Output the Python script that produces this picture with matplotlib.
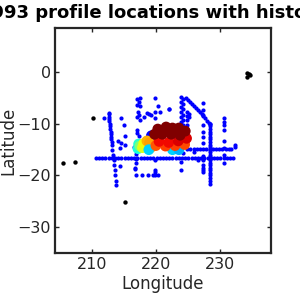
import matplotlib
matplotlib.use("Agg")
import matplotlib.pyplot as plt

# ---- Blue profile locations (lon, lat) ----
track_a_lon = [210.6, 211.1, 211.6, 212.1, 212.6, 213.1, 213.6, 214.1, 214.6, 215.1, 215.6, 216.1,
               216.6, 217.1, 217.6, 218.1, 218.6, 219.1, 219.6, 220.1, 220.6, 221.1, 221.6, 222.1,
               222.6, 223.1, 223.6, 224.1, 224.6, 225.1, 225.6, 226.1, 226.6, 227.1, 227.6, 228.1,
               228.6, 229.1, 229.6, 230.1, 230.6, 231.1, 231.6, 232.0]
track_a_lat = [-16.6] * len(track_a_lon)

track_b_lon = [224.9, 225.4, 225.9, 226.4, 226.9, 227.4, 227.9, 228.4, 228.9, 229.4, 229.9, 230.4,
               230.9, 231.4, 231.7]
track_b_lat = [-14.9] * len(track_b_lon)

track_c_lon = [212.6, 212.62, 212.66, 212.7, 212.74, 212.79, 212.83, 212.87, 212.92, 212.96, 213.0,
               213.05, 213.1, 213.13, 213.2, 213.3, 213.38, 213.47, 213.56, 213.65, 213.72, 213.8]
track_c_lat = [-7.8, -8.1, -8.6, -9.0, -9.5, -10.0, -10.5, -11.0, -11.5, -12.0, -12.5,
               -13.0, -13.5, -14.0, -15.0, -16.0, -17.0, -18.0, -19.0, -20.0, -21.0, -21.8]

track_d_lon = [224.75, 225.05, 225.35, 225.65, 225.95, 226.25, 226.55, 226.85, 227.15, 227.45,
               227.75, 228.05, 228.35, 228.5]
track_d_lat = [-4.9, -5.3, -5.7, -6.1, -6.5, -6.9, -7.3, -7.7, -8.1, -8.5,
               -8.9, -9.4, -9.8, -10.0]

track_e_lon = [228.5] * 24
track_e_lat = [-10.0, -10.5, -11.0, -11.5, -12.0, -12.5, -13.0, -13.5, -14.0, -14.5, -15.0, -15.5,
               -16.0, -16.5, -17.0, -17.5, -18.0, -18.5, -19.0, -19.5, -20.0, -20.5, -21.0, -21.7]

col_224_lon = [223.9, 224.2, 223.9, 224.2, 223.9, 224.2, 223.9, 224.2, 223.9, 224.2, 223.9, 224.2,
               223.9, 224.2, 223.9, 224.2, 223.9, 224.2, 223.9, 224.2, 223.9, 223.9, 224.8, 224.8,
               224.8, 224.8, 225.2, 225.2]
col_224_lat = [-4.8, -5.2, -5.7, -6.2, -6.7, -7.2, -7.7, -8.2, -8.7, -9.2, -9.7, -10.2,
               -10.7, -11.2, -11.7, -12.2, -12.7, -13.2, -13.7, -15.6, -17.3, -18.9, -7.7, -8.5,
               -9.3, -10.2, -8.0, -8.6]

scatter_lon = [227.3, 227.3, 227.3, 227.3, 227.3, 227.3, 227.3, 227.3, 227.3, 227.3, 227.3,
               230.7, 230.7, 230.7, 230.7, 230.7, 230.7, 230.7, 230.7, 232.4, 232.4,
               226.0, 226.6, 227.3, 227.3, 222.0,
               219.9, 219.9, 219.9, 219.9, 219.9, 219.9, 219.9, 219.9,
               217.0, 217.5, 217.4, 217.0, 217.5, 217.2, 217.4, 217.0, 217.5, 217.0, 217.1, 217.4,
               216.8, 216.9, 216.9, 216.9, 216.8,
               216.9, 217.8, 218.7, 219.6, 220.4,
               211.9, 214.6, 215.0, 215.2, 214.0, 214.6, 215.2, 214.4, 214.4, 216.5, 216.8,
               219.0, 222.0, 220.4, 218.1, 218.6, 219.3, 220.7]
scatter_lat = [-6.0, -7.3, -8.3, -10.2, -11.5, -12.5, -13.7, -16.3, -17.0, -18.6, -19.3,
               -8.9, -9.6, -10.2, -11.2, -13.4, -14.7, -16.0, -17.6, -14.1, -14.5,
               -15.4, -17.0, -17.9, -18.9, -7.1,
               -5.0, -7.6, -8.9, -14.0, -17.0, -18.9, -19.3, -20.0,
               -5.2, -5.0, -5.7, -6.3, -6.6, -7.6, -8.2, -8.6, -9.2, -11.2, -11.8, -12.4,
               -14.4, -15.8, -16.9, -17.6, -18.6,
               -20.0, -20.0, -20.0, -20.0, -20.0,
               -8.9, -8.9, -10.2, -12.3, -13.3, -13.7, -14.0, -14.7, -18.1, -14.4, -18.7,
               -8.1, -7.1, -6.5, -8.6, -7.9, -8.3, -7.7]

# ---- Black (outlier) locations ----
black_lon = [210.1, 205.4, 207.4, 215.1, 234.3, 234.3, 234.7, 234.5]
black_lat = [-8.9, -17.6, -17.4, -25.1, -0.1, -0.9, -0.5, -0.4]

# ---- Historical profiles coloured by value (jet) ----
hist_lon = [219.3, 217.3, 217.2, 217.5, 217.9, 218.1, 218.6, 219.2, 219.0,
            218.9, 222.6, 223.6,
            220.0, 221.5, 223.0, 224.5,
            220.5, 222.0, 223.5, 224.8,
            219.8, 221.0, 222.4, 223.8,
            220.3, 221.6, 222.6, 223.6, 224.6]
hist_lat = [-12.3, -13.9, -14.8, -14.3, -14.6, -13.8, -13.3, -14.6, -13.7,
            -15.0, -15.0, -15.0,
            -14.2, -14.3, -14.2, -14.0,
            -13.4, -13.6, -13.3, -12.8,
            -12.0, -12.0, -12.0, -12.2,
            -11.0, -10.6, -10.8, -10.8, -11.4]
hist_val = [0.12, 0.40, 0.38, 0.50, 0.62, 0.64, 0.72, 0.72, 0.74,
            0.33, 0.33, 0.30,
            0.82, 0.84, 0.84, 0.83,
            0.90, 0.90, 0.92, 0.92,
            1.0, 1.0, 1.0, 1.0,
            1.0, 1.0, 1.0, 1.0, 1.0]

title_text = "1993 profile locations with historical"
x_ticks = [210, 220, 230]
y_ticks = [0, -10, -20, -30]

fig = plt.figure(figsize=(3, 3), dpi=100)
ax = fig.add_axes([0.183, 0.157, 0.72, 0.75])

blue_lon = track_a_lon + track_b_lon + track_c_lon + track_d_lon + track_e_lon + col_224_lon + scatter_lon
blue_lat = track_a_lat + track_b_lat + track_c_lat + track_d_lat + track_e_lat + col_224_lat + scatter_lat
ax.scatter(blue_lon, blue_lat, s=9, c='#0000ff', linewidths=0, zorder=2)
ax.scatter(black_lon, black_lat, s=10, c='black', linewidths=0, zorder=2)
ax.scatter(hist_lon, hist_lat, s=60, c=hist_val, cmap='jet', vmin=0, vmax=1,
           linewidths=0, zorder=3)

ax.set_xlim(204.2, 238)
ax.set_ylim(-35, 8.6)
ax.set_xticks(x_ticks)
ax.set_yticks(y_ticks)
ax.tick_params(direction='in', top=True, right=True, length=3, width=1,
               labelsize=11.5, colors='#262626', pad=3)
for sp in ax.spines.values():
    sp.set_linewidth(1.6)
    sp.set_color('#262626')
ax.set_xlabel("Longitude", fontsize=12, color='#262626', labelpad=2)
ax.set_ylabel("Latitude", fontsize=12, color='#262626', labelpad=0)
ax.set_title(title_text, fontsize=13, fontweight='bold', pad=7, x=0.507)

fig.savefig("out.png", dpi=100)
